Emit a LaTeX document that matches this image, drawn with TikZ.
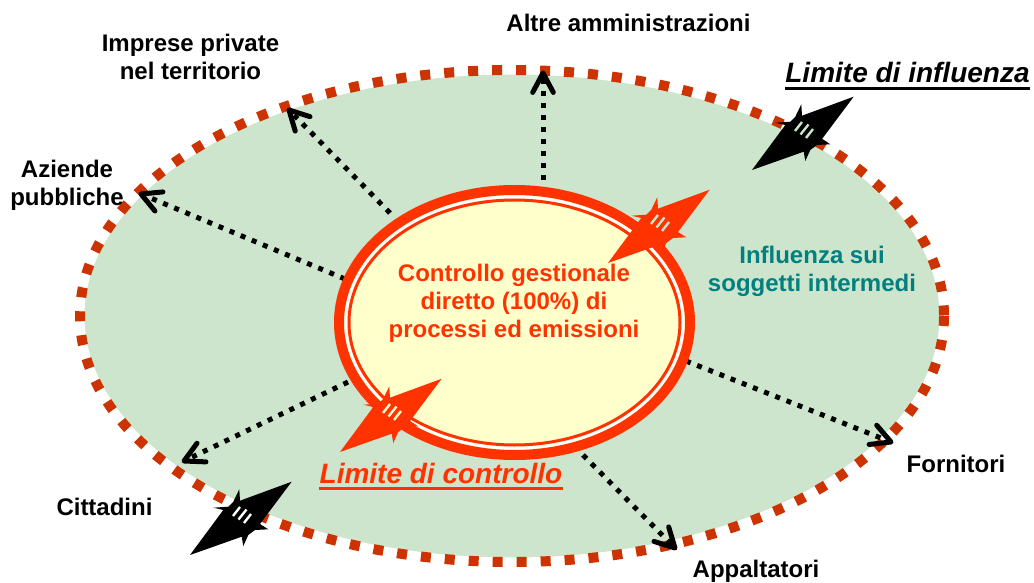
\documentclass[tikz,border=0pt]{standalone}
\usepackage{fontspec}
\setmainfont{Liberation Sans}
\usetikzlibrary{calc}
\definecolor{ogreen}{HTML}{CCE5CC}
\definecolor{odot}{HTML}{CC3300}
\definecolor{ired}{HTML}{FF3300}
\definecolor{iyel}{HTML}{FFFFCC}
\definecolor{tealtxt}{HTML}{008080}
\tikzset{
  pics/bolt/.style 2 args={code={
    \fill[#1] (0,0) -- (33.3,-45) -- (23.3,-47.3) -- (38.3,-48.3) -- (43.3,-53.3)
      -- (49.3,-65.7) -- (50,-54.3) -- (101.7,-73.3) -- (70,-31) -- (78.3,-25.7)
      -- (65,-25) -- (58.3,-20) -- (53.3,-9) -- (51.7,-18.3) -- cycle;
    \draw[#2, line width=2.4pt] (43,-39) -- (50,-48) (48.5,-35.5) -- (56.5,-45.5) (54,-32) -- (61,-41);
  }}
}
\begin{document}
\begin{tikzpicture}[x=1pt,y=-1pt,
  lbl/.style={font=\bfseries\fontsize{24}{28}\selectfont, align=center, inner sep=0pt},
  limtxt/.style={font=\bfseries\itshape\fontsize{28}{32}\selectfont, inner sep=0pt},
  flow/.style={line width=5pt, dash pattern=on 5pt off 7pt, shorten >=4pt},
  headst/.style={line width=5pt, line cap=round, line join=round}]
\useasboundingbox (0,0) rectangle (1034,583);
% outer ellipse
\path[fill=ogreen] (512,316) ellipse [x radius=432, y radius=246];
\draw[white, line width=9pt] (512,316) ellipse [x radius=432, y radius=246];
\draw[odot, line width=10pt, dash pattern=on 10pt off 14pt] (512,316) ellipse [x radius=432, y radius=246];
% connector end points
\coordinate (s1) at (543,192);  \coordinate (e1) at (543,73);
\coordinate (s2) at (390,213);  \coordinate (e2) at (289,110);
\coordinate (s3) at (345,279);  \coordinate (e3) at (141,194);
\coordinate (s4) at (348,382);  \coordinate (e4) at (184,461);
\coordinate (s5) at (583,455);  \coordinate (e5) at (675,548);
\coordinate (s6) at (686,361);  \coordinate (e6) at (891,442);
\foreach \i in {1,...,6} {
  \draw[flow] (s\i) -- (e\i);
  \draw[headst] ($(e\i)!22pt!28:(s\i)$) -- (e\i) -- ($(e\i)!22pt!-28:(s\i)$);
}
% inner ellipse
\path[fill=iyel] (514.5,322.5) ellipse [x radius=178, y radius=135];
\draw[white, line width=3pt] (514.5,322.5) ellipse [x radius=168.5, y radius=125.5];
\draw[ired, line width=10pt] (514.5,322.5) ellipse [x radius=175.5, y radius=132.5];
\draw[ired, line width=3pt] (514.5,322.5) ellipse [x radius=165.5, y radius=122.5];
% bolts
\pic at (752,170) {bolt={black}{ogreen}};
\pic at (608,263) {bolt={ired}{ogreen}};
\pic at (340,452) {bolt={ired}{iyel}};
\pic at (190,555) {bolt={black}{white}};
% texts
\node[lbl, text=ired, anchor=base] (ctl) at (514,337) {Controllo gestionale\\diretto (100\%) di\\processi ed emissioni};
\node[lbl, text=tealtxt, anchor=base] (infl) at (812,291) {Influenza sui\\soggetti intermedi};
\node[lbl, anchor=base] (alt) at (628.5,32) {Altre amministrazioni};
\node[lbl, anchor=base] (imp) at (190.5,80) {Imprese private\\nel territorio};
\node[lbl, anchor=base] (az) at (67,205) {Aziende\\pubbliche};
\node[lbl, anchor=base] (cit) at (104.5,515) {Cittadini};
\node[lbl, anchor=base] (forn) at (956,472) {Fornitori};
\node[lbl, anchor=base] (app) at (756,577) {Appaltatori};
\node[limtxt, anchor=base] (limi) at (907.5,83) {Limite di influenza};
\draw[line width=2.7pt] ([yshift=-5.5pt]limi.base west) -- ([yshift=-5.5pt]limi.base east);
\node[limtxt, text=ired, anchor=base] (limc) at (441,483) {Limite di controllo};
\draw[ired, line width=2.7pt] ([yshift=-5.5pt]limc.base west) -- ([yshift=-5.5pt]limc.base east);
\end{tikzpicture}
\end{document}
